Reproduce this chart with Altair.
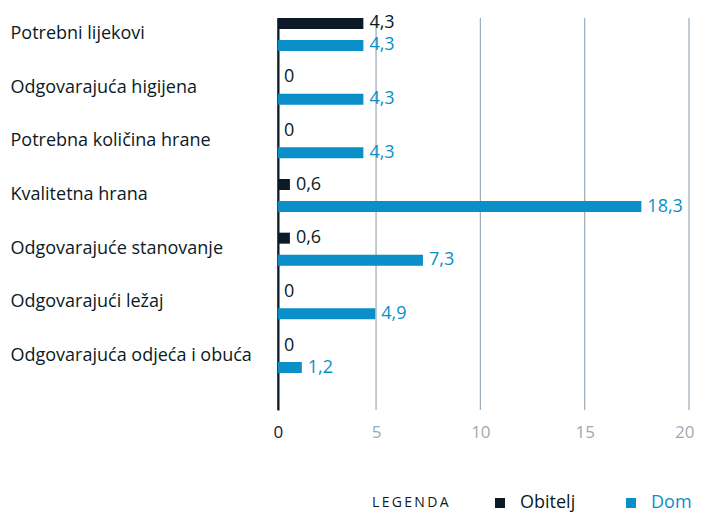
import altair as alt
import pandas as pd

categories = [
    "Potrebni lijekovi",
    "Odgovarajuća higijena",
    "Potrebna količina hrane",
    "Kvalitetna hrana",
    "Odgovarajuće stanovanje",
    "Odgovarajući ležaj",
    "Odgovarajuća odjeća i obuća",
]
series = ["Obitelj", "Dom"]
obitelj = [4.3, 0, 0, 0.6, 0.6, 0, 0]
dom = [4.3, 4.3, 4.3, 18.3, 7.3, 4.9, 1.2]
x_ticks = [0.3, 5, 10, 15, 20]

DARK = "#0b1a26"
BLUE = "#0a8fc8"
GRID = "#9aabb8"
FONT = "Open Sans"

rows = []
for c, o, d in zip(categories, obitelj, dom):
    rows.append({"cat": c, "series": "Obitelj", "v": o})
    rows.append({"cat": c, "series": "Dom", "v": d})
df = pd.DataFrame(rows)
ticks_df = pd.DataFrame({"t": x_ticks})

y_enc = alt.Y(
    "cat:N",
    sort=categories,
    scale=alt.Scale(domain=categories, paddingInner=0, paddingOuter=0.152, align=0),
    axis=alt.Axis(
        title=None,
        labelAlign="left",
        labelPadding=268,
        labelLimit=320,
        labelFontSize=18,
        labelFont=FONT,
        labelColor=DARK,
        labelOffset=-11,
        ticks=False,
        tickSize=0,
        domain=True,
        domainColor=DARK,
        domainWidth=2,
        grid=False,
    ),
)
yoff = alt.YOffset(
    "series:N",
    sort=series,
    scale=alt.Scale(domain=series, paddingInner=0.5, paddingOuter=0.47, align=0),
)
x_bar = alt.X(
    "v:Q",
    scale=alt.Scale(domain=[0, 20.7], nice=False, zero=True),
    axis=None,
)
color_scale = alt.Scale(domain=series, range=[DARK, BLUE])
color_enc = alt.Color(
    "series:N",
    sort=series,
    scale=color_scale,
    legend=alt.Legend(
        title="L\u2009E\u2009G\u2009E\u2009N\u2009D\u2009A",
        orient="none",
        legendX=94,
        legendY=476,
        direction="horizontal",
        titleOrient="left",
        titleFontSize=14,
        titleFontWeight="normal",
        titleFont=FONT,
        titleColor=DARK,
        titlePadding=42,
        titleBaseline="middle",
        symbolType="square",
        symbolSize=100,
        symbolStrokeWidth=0,
        labelFontSize=18,
        labelFont=FONT,
        labelOffset=11,
        columnPadding=46,
        labelColor=alt.ExprRef(expr=f"datum.label == 'Dom' ? '{BLUE}' : '{DARK}'"),
    ),
)

grid = alt.Chart(ticks_df).mark_rule(strokeWidth=1.2).encode(
    x=alt.X(
        "t:Q",
        scale=alt.Scale(domain=[0.3, 20], nice=False, zero=False),
        axis=alt.Axis(
            title=None,
            values=x_ticks,
            labelExpr="datum.value < 1 ? '0' : datum.label",
            labelFlush=True,
            labelFlushOffset=5,
            domain=False,
            ticks=False,
            grid=False,
            labelPadding=14,
            labelFontSize=17,
            labelFont=FONT,
            labelColor=alt.ExprRef(expr=f"datum.value < 1 ? '{DARK}' : '{GRID}'"),
        ),
    ),
    color=alt.condition(alt.datum.t < 1, alt.value(DARK), alt.value(GRID)),
)

base = alt.Chart(df).transform_calculate(
    lbl="replace(format(datum.v, '.1~f'), '.', ',')"
)

bars = base.mark_bar(height=11).encode(y=y_enc, yOffset=yoff, x=x_bar, color=color_enc)
texts = base.mark_text(align="left", baseline="middle", dx=6, fontSize=18, font=FONT).encode(
    y=y_enc,
    yOffset=yoff,
    x=x_bar,
    text="lbl:N",
    color=alt.Color("series:N", sort=series, scale=color_scale, legend=None),
)

chart = (
    alt.layer(grid, bars, texts)
    .resolve_scale(x="independent")
    .properties(width=411, height=392, padding={"left": 2, "top": 6, "right": 0, "bottom": 0})
    .configure_view(stroke=None)
)

chart.save("out.html", embed_options={"renderer": "svg", "actions": False})
